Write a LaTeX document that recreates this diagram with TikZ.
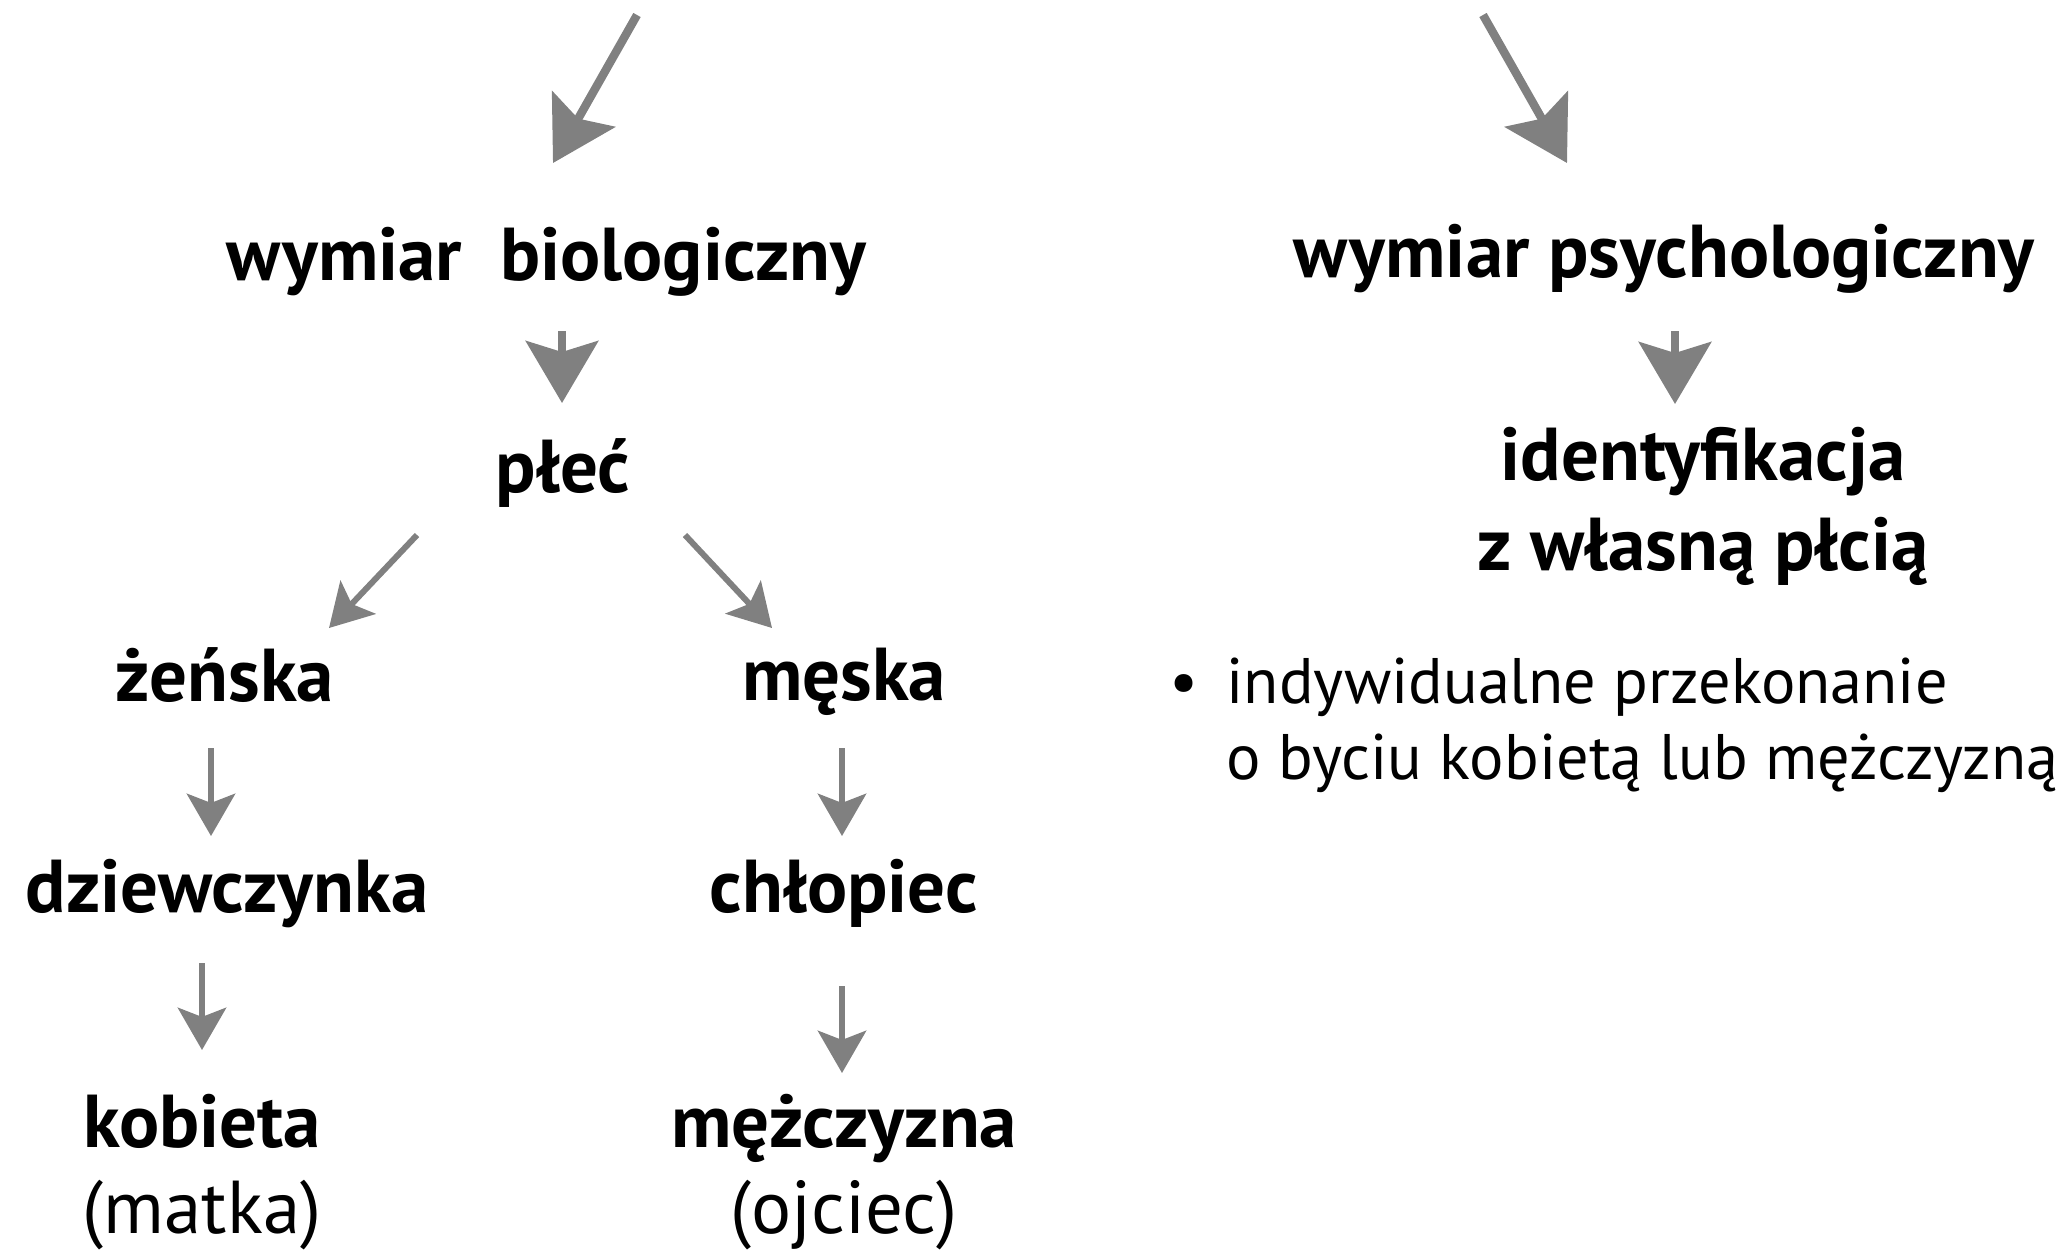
\documentclass[tikz,border=0pt]{standalone}
\usepackage{fontspec}
\setmainfont{PT Sans}
\usetikzlibrary{arrows.meta}
\definecolor{arrgray}{RGB}{128,128,128}
\tikzset{
  bigarrow/.style={draw=arrgray, line width=2.4pt, -{Stealth[length=17.6pt, width=20.5pt, inset=3.1pt, fill=arrgray]}},
  smallarrow/.style={draw=arrgray, line width=1.7pt, -{Stealth[length=12pt, width=13.7pt, inset=2.6pt, fill=arrgray]}},
  term/.style={anchor=base, inner sep=0pt, font=\fontsize{21.3}{25}\selectfont\bfseries},
  paren/.style={anchor=base, inner sep=0pt, font=\fontsize{21.3}{25}\selectfont},
  plain/.style={anchor=base, inner sep=0pt, font=\fontsize{18.3}{22}\selectfont},
}
\begin{document}
\begin{tikzpicture}[x=0.01cm, y=-0.01cm]
\useasboundingbox (0,0) rectangle (2067,1251);
% text nodes
\node[term] (bio) at (546,280) {wymiar\ \ biologiczny};
\node[term] (psy) at (1664,277) {wymiar psychologiczny};
\node[term] (plec) at (563,492) {płeć};
\node[term] (zen) at (225,701) {żeńska};
\node[term] (mes) at (844,700) {męska};
\node[term] (dz) at (227,912) {dziewczynka};
\node[term] (ch) at (844,912) {chłopiec};
\node[term] (kob) at (202,1147) {kobieta};
\node[paren] (matka) at (202,1233) {(matka)};
\node[term] (mez) at (844,1147) {mężczyzna};
\node[paren] (ojc) at (844,1233) {(ojciec)};
\node[term] (id1) at (1703,480) {identyfikacja};
\node[term] (id2) at (1703,570) {z własną płcią};
\node[plain] (bul) at (1184,703) {•};
\node[plain, anchor=base west] (txt1) at (1226,703) {indywidualne przekonanie};
\node[plain, anchor=base west] (txt2) at (1226,779) {o byciu kobietą lub mężczyzną};
% arrow end points
\coordinate (a1s) at (637,15);   \coordinate (a1e) at (553,163);
\coordinate (a2s) at (1483,15);  \coordinate (a2e) at (1567,163);
\coordinate (a3s) at (562,331);  \coordinate (a3e) at (562,403);
\coordinate (a4s) at (1675,331); \coordinate (a4e) at (1675,404);
\coordinate (a5s) at (417,535);  \coordinate (a5e) at (329,628);
\coordinate (a6s) at (685,535);  \coordinate (a6e) at (772,628);
\coordinate (a7s) at (211,748);  \coordinate (a7e) at (211,836);
\coordinate (a8s) at (842,748);  \coordinate (a8e) at (842,836);
\coordinate (a9s) at (202,963);  \coordinate (a9e) at (202,1050);
\coordinate (a10s) at (842,986); \coordinate (a10e) at (842,1073);
% arrows
\draw[bigarrow] (a1s) -- (a1e);
\draw[bigarrow] (a2s) -- (a2e);
\draw[bigarrow] (a3s) -- (a3e);
\draw[bigarrow] (a4s) -- (a4e);
\draw[smallarrow] (a5s) -- (a5e);
\draw[smallarrow] (a6s) -- (a6e);
\draw[smallarrow] (a7s) -- (a7e);
\draw[smallarrow] (a8s) -- (a8e);
\draw[smallarrow] (a9s) -- (a9e);
\draw[smallarrow] (a10s) -- (a10e);
\end{tikzpicture}
\end{document}
